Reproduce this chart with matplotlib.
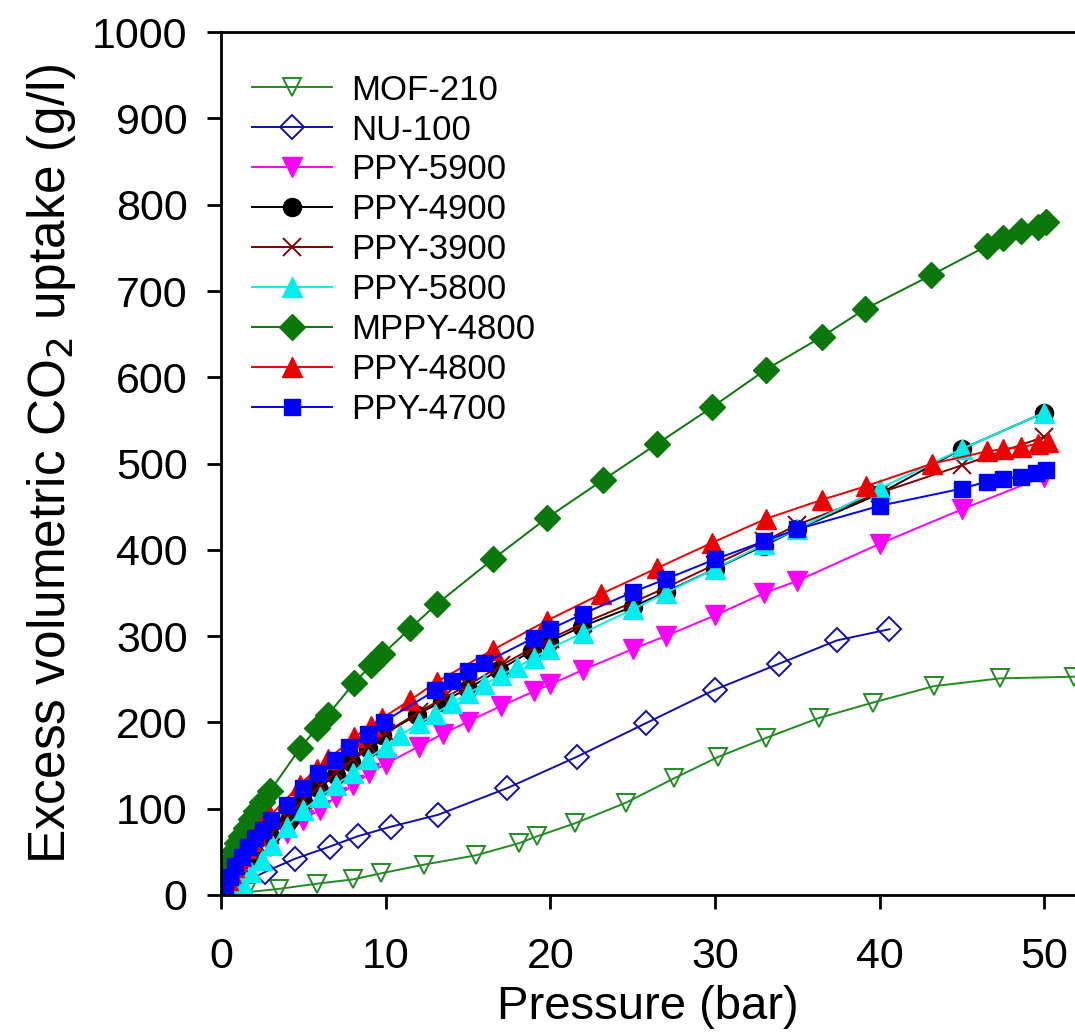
import matplotlib
matplotlib.use("Agg")
import matplotlib.pyplot as plt

plt.rcParams['font.family'] = ['Liberation Sans', 'DejaVu Sans']

# ---- data ----
mof210_p = [1.0, 1.5, 3.5, 5.8, 8.0, 9.7, 12.3, 15.5, 18.1, 19.2, 21.5, 24.6, 27.5, 30.2,
            33.1, 36.3, 39.6, 43.3, 47.3, 51.8]
mof210_v = [1, 3, 7, 13, 18, 25, 35, 46, 60, 68, 83, 107, 135, 160,
            182, 205, 223, 242, 251, 253]

nu100_p = [0.3, 2.7, 4.5, 6.6, 8.3, 10.3, 13.2, 17.4, 21.6, 25.8, 30.0, 33.9, 37.4, 40.6]
nu100_v = [4, 27, 42, 56, 68, 79, 93, 124, 160, 199, 238, 268, 295, 308]

ppy5900_p = [0.2, 0.5, 1, 1.5, 2, 3, 4, 5, 6, 7, 8, 9, 10, 12, 13.5, 15, 17, 19, 20, 22,
             25, 27, 30, 33, 35, 40, 45, 50]
ppy5900_v = [4, 11, 22, 31, 40, 57, 72, 87, 99, 114, 127, 141, 152, 172, 187, 201, 219, 236,
             244, 261, 285, 300, 324, 350, 364, 407, 447, 485]

ppy4900_p = [0.1, 0.5, 1, 1.5, 2, 3, 4.1, 5.0, 5.9, 7.0, 7.9, 8.9, 9.8, 11.9, 13.4, 15.0,
             16.9, 18.9, 19.9, 21.9, 25.0, 27.0, 30.0, 33.0, 35.0, 40.0, 45.0, 50.0]
ppy4900_v = [3, 15, 28, 40, 50, 68, 87, 108, 124, 139, 154, 170, 185, 209, 224, 239,
             261, 283, 293, 311, 334, 351, 378, 405, 424, 465, 517, 559]

ppy3900_p = [0.1, 0.5, 1, 1.5, 2, 3, 4, 5, 6, 7, 8, 9, 10, 12, 13.5, 15, 17, 19, 20, 22,
             25, 27, 30, 33, 35, 40, 45, 50]
ppy3900_v = [3, 15, 29, 41, 52, 70, 89, 110, 126, 142, 157, 173, 188, 212, 228, 243, 266,
             287, 297, 315, 339, 356, 383, 410, 429, 466, 498, 531]

ppy5800_p = [0.3, 0.75, 1.25, 1.85, 2.5, 3.1, 4.0, 5.0, 6.0, 7.0, 8.0, 8.9, 10.0, 10.9,
             12.0, 13.0, 14.0, 15.0, 16.0, 17.0, 18.0, 19.0, 19.9, 22.0, 25.0, 27.0, 30.0,
             33.0, 35.0, 40.0, 45.0, 50.0]
ppy5800_v = [0, 3, 14, 27, 41, 58, 79, 98, 114, 128, 141, 158, 172, 185,
             199, 210, 222, 234, 244, 255, 264, 275, 285, 304, 331, 350, 378,
             407, 424, 471, 517, 559]

mppy4800_p = [0.1, 0.2, 0.4, 0.6, 0.8, 1.0, 1.2, 1.5, 1.8, 2.1, 2.5, 3.0, 4.8, 5.8, 6.5,
              8.1, 9.1, 9.8, 11.5, 13.1, 16.5, 19.8, 23.2, 26.5, 29.8, 33.1, 36.5, 39.1,
              43.1, 46.5, 47.5, 48.6, 49.6, 50.1]
mppy4800_v = [9, 17, 30, 41, 51, 60, 68, 78, 88, 97, 108, 121, 170, 193, 209,
              246, 266, 279, 309, 337, 389, 437, 481, 523, 565, 609, 647, 679,
              718, 752, 762, 769, 774, 780]

ppy4800_p = [0.1, 0.2, 0.4, 0.6, 0.8, 1.0, 1.2, 1.5, 1.8, 2.1, 2.5, 3.0, 4.8, 5.8, 6.5,
             8.1, 9.1, 9.8, 11.5, 13.1, 16.5, 19.8, 23.1, 26.5, 29.8, 33.1, 36.5, 39.2,
             43.2, 46.5, 47.5, 48.6, 49.6, 50.2]
ppy4800_v = [4, 9, 17, 25, 32, 39, 45, 54, 62, 70, 80, 92, 128, 146, 157,
             183, 196, 205, 226, 247, 284, 318, 349, 379, 408, 436, 458, 474,
             500, 514, 517, 519, 523, 525]

ppy4700_p = [0.05, 0.25, 0.55, 0.85, 1.25, 1.65, 2.05, 2.55, 3.05, 4.0, 5.0, 5.9, 6.9, 7.8,
             8.9, 9.9, 13.0, 14.0, 15.0, 16.0, 19.0, 20.0, 22.0, 25.0, 27.0, 30.0, 33.0,
             35.0, 40.0, 45.0, 46.5, 47.5, 48.6, 49.5, 50.1]
ppy4700_v = [2, 10, 21, 33, 44, 56, 66, 75, 87, 104, 124, 141, 156, 172,
             186, 201, 237, 248, 259, 269, 298, 308, 326, 351, 366, 389, 410,
             424, 451, 471, 479, 482, 485, 489, 492]

fig = plt.figure(figsize=(10.75, 10.32), dpi=100)
ax = fig.add_axes([0.2056, 0.1328, 0.7944, 0.836])

lw = 1.4
ax.plot(mof210_p, mof210_v, color='#228b22', lw=lw, marker='v', ms=13,
        mfc='none', mec='#228b22', mew=1.4, label='MOF-210')
ax.plot(nu100_p, nu100_v, color='#1010a8', lw=lw, marker='D', ms=12,
        mfc='none', mec='#1010a8', mew=1.4, label='NU-100')
ax.plot(ppy5900_p, ppy5900_v, color='#ff00ff', lw=lw, marker='v', ms=14,
        label='PPY-5900')
ax.plot(ppy4900_p, ppy4900_v, color='black', lw=lw, marker='o', ms=13,
        label='PPY-4900')
ax.plot(ppy3900_p, ppy3900_v, color='#800000', lw=lw, marker='x', ms=13, mew=1.4,
        label='PPY-3900')
ax.plot(ppy5800_p, ppy5800_v, color='#00eeee', lw=lw, marker='^', ms=14,
        label='PPY-5800')
ax.plot(mppy4800_p, mppy4800_v, color='#0a780a', lw=lw, marker='D', ms=13,
        label='MPPY-4800')
ax.plot(ppy4800_p, ppy4800_v, color='#ee0000', lw=lw, marker='^', ms=14,
        label='PPY-4800')
ax.plot(ppy4700_p, ppy4700_v, color='#0000ff', lw=lw, marker='s', ms=12,
        label='PPY-4700')

ax.set_xlim(0, 51.87)
ax.set_ylim(0, 1000)
ax.set_xticks([0, 10, 20, 30, 40, 50])
ax.set_yticks(range(0, 1001, 100))
ax.tick_params(direction='out', length=10, width=2, labelsize=31)
ax.tick_params(axis='y', pad=14)
ax.tick_params(axis='x', pad=20)
for s in ['left', 'bottom', 'top']:
    ax.spines[s].set_linewidth(2)
ax.spines['right'].set_visible(False)

ax.set_xlabel('Pressure (bar)', fontsize=34, labelpad=6)
ax.set_ylabel('Excess volumetric CO$_2$ uptake (g/l)', fontsize=37, labelpad=10)

ax.legend(loc='upper left', bbox_to_anchor=(0.036, 0.952), frameon=False,
          fontsize=25, handlelength=2.3, handletextpad=0.55, labelspacing=0.2,
          borderpad=0, borderaxespad=0)

fig.savefig('out.png', dpi=100)
